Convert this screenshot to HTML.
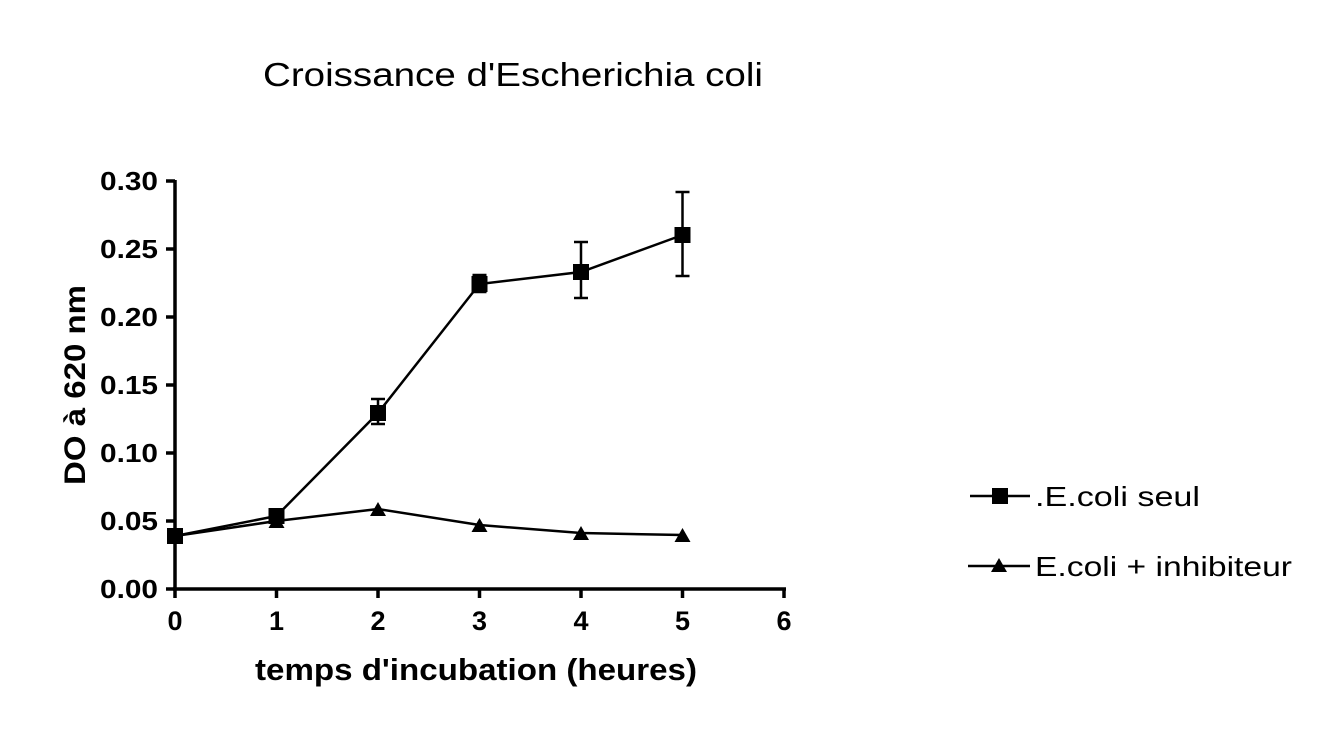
<!DOCTYPE html>
<html><head><style>body{margin:0;background:#fff}svg{display:block}</style></head>
<body>
<svg width="1340" height="736" xmlns="http://www.w3.org/2000/svg" font-family="'Liberation Sans', Arial, sans-serif">
<rect width="1340" height="736" fill="#fff"/>
<text x="263" y="86" font-size="33" textLength="500" lengthAdjust="spacingAndGlyphs">Croissance d'Escherichia coli</text>
<g stroke="#000" stroke-width="3.5" fill="none">
<line x1="175" y1="180" x2="175" y2="590"/>
<line x1="173" y1="589" x2="786" y2="589"/>
<path d="M166 181H175M166 249H175M166 317H175M166 385H175M166 453H175M166 521H175M166 589H175"/>
<path d="M175 589V598M276.5 589V598M378 589V598M479.5 589V598M581 589V598M682.5 589V598M784 589V598"/>
</g>
<g font-size="26" font-weight="bold">
<text x="100" y="190" textLength="58" lengthAdjust="spacingAndGlyphs">0.30</text>
<text x="100" y="258" textLength="58" lengthAdjust="spacingAndGlyphs">0.25</text>
<text x="100" y="326" textLength="58" lengthAdjust="spacingAndGlyphs">0.20</text>
<text x="100" y="394" textLength="58" lengthAdjust="spacingAndGlyphs">0.15</text>
<text x="100" y="462" textLength="58" lengthAdjust="spacingAndGlyphs">0.10</text>
<text x="100" y="530" textLength="58" lengthAdjust="spacingAndGlyphs">0.05</text>
<text x="100" y="598" textLength="58" lengthAdjust="spacingAndGlyphs">0.00</text>
</g>
<g font-size="27" font-weight="bold" text-anchor="middle">
<text x="175" y="630">0</text><text x="276.5" y="630">1</text><text x="378" y="630">2</text><text x="479.5" y="630">3</text><text x="581" y="630">4</text><text x="682.5" y="630">5</text><text x="784" y="630">6</text>
</g>
<text x="255" y="680" font-size="31" font-weight="bold" textLength="442" lengthAdjust="spacingAndGlyphs">temps d'incubation (heures)</text>
<text transform="translate(85 485) rotate(-90)" font-size="30" font-weight="bold" textLength="200" lengthAdjust="spacingAndGlyphs">DO à 620 nm</text>
<g stroke="#000" stroke-width="2.5" fill="none">
<polyline points="175,536 276.5,516 378,413 479.5,284 581,272 682.5,235"/>
<polyline points="175,536 276.5,521 378,509 479.5,525 581,533 682.5,535"/>
<path d="M378 424V399M371 424H385M371 399H385"/>
<path d="M479.5 292V275M472.5 292H486.5M472.5 275H486.5"/>
<path d="M581 298V242M574 298H588M574 242H588"/>
<path d="M682.5 276V192M675.5 276H689.5M675.5 192H689.5"/>
</g>
<g fill="#000">
<rect x="167" y="528" width="16" height="16"/><rect x="268.5" y="508" width="16" height="16"/>
<rect x="370" y="405" width="16" height="16"/><rect x="471.5" y="276" width="16" height="16"/>
<rect x="573" y="264" width="16" height="16"/><rect x="674.5" y="227" width="16" height="16"/>
<path d="M276.5 514l8 14h-16z M378 502l8 14h-16z M479.5 518l8 14h-16z M581 526l8 14h-16z M682.5 528l8 14h-16z"/>
<path d="M175 530l8 14h-16z"/>
</g>
<line x1="970" y1="496" x2="1030" y2="496" stroke="#000" stroke-width="2.5"/>
<rect x="992" y="488" width="16" height="16"/>
<text x="1035" y="506" font-size="28" textLength="165" lengthAdjust="spacingAndGlyphs">.E.coli seul</text>
<line x1="968" y1="566" x2="1030" y2="566" stroke="#000" stroke-width="2.5"/>
<path d="M999 558l8 14h-16z"/>
<text x="1035" y="576" font-size="28" textLength="257" lengthAdjust="spacingAndGlyphs">E.coli + inhibiteur</text>
</svg>
</body></html>
